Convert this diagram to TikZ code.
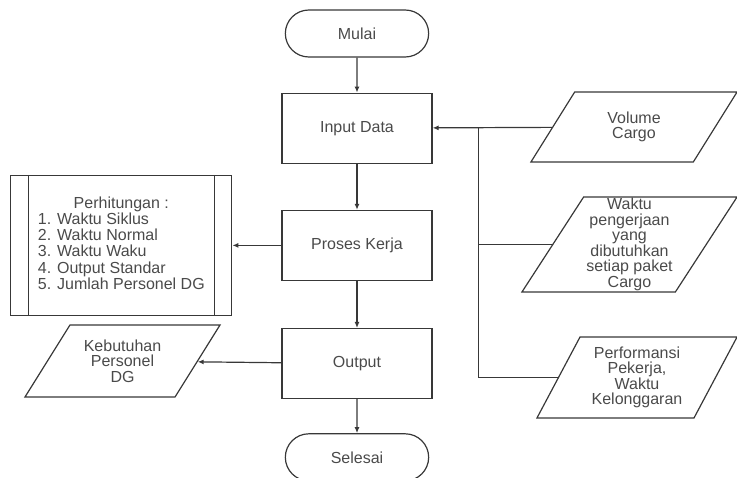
\documentclass[tikz,border=0pt]{standalone}
\usepackage{fontspec}
\setmainfont{Liberation Sans}
\usepackage{tikz}
\usetikzlibrary{arrows.meta,positioning,shapes.geometric,shapes.misc}
\definecolor{flowLine}{HTML}{383838}
\definecolor{flowText}{HTML}{4A4A4A}

\begin{document}
\begin{tikzpicture}[
  x=1pt, y=-1pt,
  every node/.style={align=center, font=\fontsize{16}{15.5}\selectfont, text=flowText},
  term/.style={draw=flowLine, line width=1.2pt, rounded rectangle, minimum width=150pt, minimum height=47pt},
  proc/.style={draw=flowLine, line width=1.2pt, rectangle, minimum width=150pt, minimum height=70pt},
  iobox/.style={draw=flowLine, line width=1.2pt, trapezium, trapezium left angle=58, trapezium right angle=122, trapezium stretches body, inner xsep=0pt},
  predef/.style={draw=flowLine, line width=1.2pt, minimum width=221pt, minimum height=140pt, inner sep=0pt},
  flow/.style={-{Latex[length=6pt,width=5pt]}, line width=1.2pt, flowLine},
  link/.style={line width=1.2pt, flowLine},
  node distance=35pt and 49pt,
]
  \useasboundingbox (0,0) rectangle (737,478);

  \node[term] (mulai) at (357,33.5) {Mulai};
  \node[proc, below=35pt of mulai] (input) {Input Data};
  \node[proc, below=46pt of input] (proses) {Proses Kerja};
  \node[proc, below=47pt of proses] (output) {Output};
  \node[term, below=34pt of output] (selesai) {Selesai};

  \node[predef, left=49pt of proses] (hitung) {\begin{tabular}{@{}l@{}}
    \multicolumn{1}{@{}c@{}}{Perhitungan :}\\
    1. Waktu Siklus\\
    2. Waktu Normal\\
    3. Waktu Waku\\
    4. Output Standar\\
    5. Jumlah Personel DG
  \end{tabular}};
  \draw[link] ([xshift=18pt]hitung.north west) -- ([xshift=18pt]hitung.south west);
  \draw[link] ([xshift=-18pt]hitung.north east) -- ([xshift=-18pt]hitung.south east);

  \node[iobox, inner ysep=14.6pt, minimum width=195pt] (kebutuhan) at (122.5,361) {Kebutuhan\\Personel\\DG};
  \node[iobox, inner ysep=19.7pt, minimum width=206pt] (volume) at (634,127) {Volume\\Cargo};
  \node[iobox, inner ysep=1.2pt, trapezium left angle=57, trapezium right angle=123, minimum width=215pt] (waktu) at (629.5,244.5) {Waktu\\pengerjaan\\yang\\dibutuhkan\\setiap paket\\Cargo};
  \node[iobox, inner ysep=9.7pt, trapezium left angle=62, trapezium right angle=118, minimum width=200pt] (performa) at (637,377.5) {Performansi\\Pekerja,\\Waktu\\Kelonggaran};
  \coordinate[right=46pt of input] (bus);

  \draw[flow] (mulai) -- (input);
  \draw[flow] (input) -- (proses);
  \draw[flow] (proses) -- (output);
  \draw[flow] (output) -- (selesai);
  \draw[flow] (proses) -- (hitung);
  \draw[flow] (output) -- (kebutuhan);
  \draw[flow] (volume) -- (input);
  \draw[link] (waktu) -| (bus);
  \draw[link] (performa) -| (bus);
\end{tikzpicture}
\end{document}
